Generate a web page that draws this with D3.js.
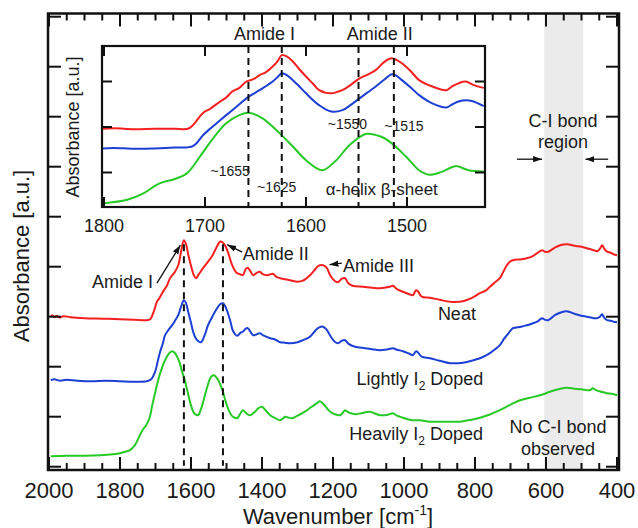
<!DOCTYPE html>
<html><head><meta charset="utf-8">
<script src="https://cdn.jsdelivr.net/npm/d3@7"></script>
<style>
html,body{margin:0;padding:0;background:#fff;}
svg text{font-family:"Liberation Sans",Arial,sans-serif;fill:#1a1a1a;}
</style></head>
<body>
<svg id="chart" width="638" height="528"></svg>
<script>
// ---------- DATA ----------
// Main plot: [wavenumber (cm^-1), absorbance (a.u., offset)]
const neatMain = [[1995,3.0],[1990,3.03],[1985,2.99],[1978,3.02],[1970,2.98],[1960,3.01],[1940,2.99],[1900,2.97],[1850,2.96],[1800,2.95],[1760,2.94],[1725,2.93],[1715,2.95],[1705,3.1],[1696,3.3],[1690,3.36],[1679,3.5],[1668,3.62],[1659,3.77],[1645,3.9],[1635,4.05],[1628,4.3],[1620,4.53],[1614,4.45],[1608,4.25],[1600,4.02],[1592,3.83],[1586,3.77],[1578,3.85],[1565,3.98],[1552,4.1],[1540,4.22],[1530,4.36],[1518,4.5],[1510,4.48],[1502,4.4],[1494,4.25],[1484,4.03],[1472,3.88],[1462,3.85],[1454,3.83],[1446,3.95],[1440,3.98],[1432,3.9],[1425,3.83],[1414,3.88],[1406,3.9],[1398,3.85],[1385,3.83],[1369,3.86],[1360,3.8],[1349,3.77],[1335,3.75],[1321,3.73],[1300,3.7],[1285,3.72],[1265,3.83],[1250,3.95],[1240,4.02],[1228,4.03],[1218,3.98],[1208,3.83],[1196,3.72],[1186,3.69],[1175,3.76],[1166,3.77],[1158,3.68],[1145,3.62],[1115,3.6],[1090,3.58],[1068,3.57],[1040,3.6],[1031,3.62],[1020,3.55],[1003,3.5],[985,3.45],[975,3.43],[966,3.53],[960,3.5],[950,3.4],[927,3.38],[900,3.34],[870,3.3],[834,3.31],[810,3.37],[786,3.47],[770,3.52],[758,3.6],[745,3.68],[730,3.77],[718,3.93],[710,4.03],[700,4.11],[693,4.13],[670,4.15],[654,4.17],[640,4.2],[625,4.27],[611,4.33],[603,4.3],[594,4.3],[575,4.38],[560,4.43],[541,4.45],[520,4.42],[500,4.4],[485,4.37],[466,4.33],[456,4.31],[448,4.36],[442,4.43],[436,4.36],[428,4.3],[418,4.28],[410,4.25],[400,4.23]];
const lightMain = [[1995,1.73],[1985,1.75],[1970,1.72],[1950,1.74],[1920,1.72],[1880,1.71],[1840,1.72],[1800,1.71],[1760,1.7],[1725,1.71],[1712,1.75],[1701,1.9],[1694,2.1],[1687,2.3],[1680,2.45],[1673,2.63],[1663,2.74],[1653,2.83],[1645,2.92],[1636,3.03],[1628,3.2],[1620,3.33],[1614,3.27],[1608,3.1],[1600,2.88],[1594,2.7],[1585,2.55],[1572,2.49],[1562,2.62],[1552,2.83],[1540,3.0],[1530,3.13],[1518,3.25],[1510,3.27],[1503,3.2],[1496,3.07],[1488,2.88],[1482,2.72],[1470,2.62],[1460,2.68],[1454,2.7],[1446,2.76],[1440,2.77],[1432,2.69],[1425,2.63],[1414,2.65],[1406,2.67],[1395,2.62],[1377,2.57],[1365,2.55],[1349,2.49],[1335,2.48],[1321,2.47],[1300,2.49],[1285,2.53],[1265,2.6],[1250,2.72],[1240,2.78],[1228,2.8],[1218,2.74],[1206,2.6],[1195,2.5],[1186,2.47],[1175,2.52],[1166,2.53],[1155,2.45],[1138,2.4],[1110,2.37],[1090,2.35],[1068,2.33],[1045,2.35],[1031,2.37],[1020,2.34],[1003,2.31],[985,2.26],[975,2.23],[966,2.31],[960,2.28],[950,2.2],[927,2.17],[900,2.12],[870,2.07],[834,2.08],[810,2.12],[786,2.17],[770,2.22],[758,2.27],[745,2.34],[730,2.43],[718,2.56],[710,2.63],[700,2.72],[693,2.77],[670,2.8],[654,2.83],[640,2.86],[625,2.9],[611,2.97],[603,2.94],[594,2.93],[575,3.03],[560,3.08],[541,3.11],[520,3.06],[500,3.02],[485,3.0],[466,2.97],[456,2.97],[448,3.0],[442,3.05],[436,2.98],[428,2.93],[418,2.92],[410,2.9],[400,2.89]];
const heavyMain = [[1995,0.21],[1950,0.22],[1900,0.22],[1856,0.23],[1820,0.25],[1800,0.27],[1785,0.3],[1772,0.33],[1758,0.43],[1744,0.63],[1735,0.75],[1728,0.81],[1721,0.9],[1715,1.02],[1710,1.2],[1703,1.42],[1696,1.63],[1689,1.82],[1682,1.97],[1675,2.1],[1668,2.2],[1660,2.28],[1653,2.31],[1646,2.28],[1639,2.2],[1632,2.08],[1625,1.9],[1619,1.77],[1614,1.63],[1608,1.45],[1603,1.3],[1597,1.16],[1591,1.07],[1580,1.03],[1572,1.15],[1563,1.37],[1554,1.6],[1546,1.77],[1540,1.82],[1535,1.83],[1528,1.78],[1521,1.7],[1515,1.6],[1510,1.5],[1503,1.32],[1496,1.17],[1488,1.05],[1480,0.99],[1470,0.97],[1462,1.05],[1454,1.13],[1446,1.08],[1434,1.03],[1420,1.1],[1410,1.17],[1400,1.2],[1390,1.13],[1377,1.03],[1365,0.98],[1349,0.93],[1340,0.97],[1335,1.0],[1325,0.98],[1315,0.97],[1300,1.02],[1279,1.1],[1260,1.2],[1245,1.27],[1237,1.31],[1225,1.24],[1215,1.15],[1208,1.1],[1195,1.05],[1180,1.03],[1172,1.08],[1166,1.13],[1158,1.09],[1138,1.05],[1120,1.07],[1096,1.1],[1080,1.06],[1068,1.03],[1045,1.04],[1031,1.07],[1020,1.02],[1003,0.98],[985,0.94],[975,0.93],[955,0.93],[927,0.9],[900,0.9],[870,0.9],[842,0.9],[810,0.94],[786,0.98],[760,1.04],[730,1.13],[700,1.24],[673,1.33],[645,1.38],[617,1.43],[600,1.47],[589,1.5],[565,1.55],[541,1.58],[520,1.56],[500,1.55],[485,1.53],[476,1.53],[468,1.57],[460,1.53],[445,1.5],[428,1.47],[415,1.46],[400,1.43]];

// Inset (1800-1425 cm^-1): [wavenumber, absorbance a.u.]
const neatInset = [[1802,1.96],[1790,1.97],[1770,1.95],[1750,1.96],[1730,1.96],[1717,1.96],[1712,2.04],[1702,2.31],[1695,2.4],[1685,2.56],[1679,2.65],[1673,2.78],[1666,2.86],[1659,3.0],[1652,3.05],[1646,3.14],[1640,3.2],[1633,3.33],[1628,3.45],[1624,3.58],[1619,3.55],[1613,3.44],[1607,3.28],[1600,3.11],[1593,2.95],[1587,2.81],[1575,2.74],[1568,2.78],[1564,2.81],[1556,2.92],[1547,3.07],[1539,3.15],[1531,3.25],[1525,3.38],[1520,3.47],[1515,3.51],[1510,3.47],[1505,3.4],[1496,3.22],[1488,3.03],[1475,2.89],[1461,2.81],[1455,2.9],[1449,2.96],[1442,3.0],[1434,2.92],[1424,2.86]];
const lightInset = [[1802,1.53],[1790,1.54],[1770,1.52],[1750,1.53],[1730,1.55],[1712,1.58],[1702,1.82],[1694,1.98],[1685,2.15],[1673,2.37],[1666,2.5],[1659,2.63],[1646,2.81],[1633,3.0],[1628,3.1],[1624,3.18],[1619,3.14],[1613,3.03],[1607,2.9],[1600,2.74],[1587,2.48],[1575,2.34],[1564,2.37],[1556,2.48],[1547,2.63],[1539,2.76],[1531,2.89],[1522,3.05],[1515,3.16],[1510,3.12],[1505,3.03],[1496,2.86],[1488,2.7],[1475,2.52],[1461,2.43],[1455,2.5],[1449,2.56],[1442,2.59],[1434,2.56],[1424,2.46]];
const heavyInset = [[1802,0.32],[1777,0.4],[1761,0.54],[1748,0.73],[1740,0.8],[1732,0.84],[1718,0.98],[1705,1.35],[1692,1.75],[1679,2.08],[1666,2.26],[1656,2.31],[1643,2.19],[1626,1.86],[1613,1.57],[1600,1.27],[1584,1.05],[1570,1.27],[1557,1.6],[1540,1.85],[1526,1.79],[1515,1.64],[1501,1.35],[1488,1.05],[1478,0.95],[1465,1.02],[1452,1.14],[1439,1.05],[1424,1.02]];

const mainXTicks = [2000,1800,1600,1400,1200,1000,800,600,400];
const insetXTicks = [1800,1700,1600,1500];
const mainDashed = [1620,1510];
const insetDashed = [1657,1624,1548,1513];
const ciBand = [605,495];
const colors = {neat:"#f41f1f", light:"#1c3fd4", heavy:"#27c927"};

// ---------- LAYOUT ----------
const svg = d3.select("#chart");
const F = {l:48, r:619, t:13.5, b:470};
const x = d3.scaleLinear().domain([2000,400]).range([49,617]);
const y = d3.scaleLinear().domain([0,9]).range([466.7,16.7]);

const defs = svg.append("defs");
defs.append("marker").attr("id","ah").attr("viewBox","0 0 10 10").attr("refX",10).attr("refY",5)
  .attr("markerWidth",9).attr("markerHeight",9).attr("markerUnits","userSpaceOnUse").attr("orient","auto")
  .append("path").attr("d","M0,1.5 L10,5 L0,8.5 Z").attr("fill","#111");

// C-I band
svg.append("rect").attr("x",x(ciBand[0])).attr("y",F.t).attr("width",x(ciBand[1])-x(ciBand[0])).attr("height",F.b-F.t).attr("fill","#ebebeb");

// curves
const line = d3.line().x(d=>x(d[0])).y(d=>y(d[1])).curve(d3.curveCatmullRom.alpha(0.5));
[[heavyMain,colors.heavy],[lightMain,colors.light],[neatMain,colors.neat]].forEach(([d,c])=>{
  svg.append("path").datum(d).attr("d",line).attr("fill","none").attr("stroke",c).attr("stroke-width",2).attr("stroke-linejoin","round");
});

// dashed lines main
mainDashed.forEach(w=>{
  svg.append("line").attr("x1",x(w)).attr("x2",x(w)).attr("y1",y(4.45)).attr("y2",y(0.02))
    .attr("stroke","#111").attr("stroke-width",2).attr("stroke-dasharray","7,5");
});

// frame + ticks
const tk = svg.append("g").attr("stroke","#111").attr("stroke-width",2);
const minorX = d3.range(2000,399,-50);
minorX.forEach(w=>{
  const major = mainXTicks.includes(w);
  const L = major?13:7;
  tk.append("line").attr("x1",x(w)).attr("x2",x(w)).attr("y1",F.b).attr("y2",F.b-L);
  tk.append("line").attr("x1",x(w)).attr("x2",x(w)).attr("y1",F.t).attr("y2",F.t+L);
});
d3.range(0,10).forEach(v=>{
  tk.append("line").attr("x1",F.l).attr("x2",F.l+13).attr("y1",y(v)).attr("y2",y(v));
  tk.append("line").attr("x1",F.r).attr("x2",F.r-13).attr("y1",y(v)).attr("y2",y(v));
});
svg.append("rect").attr("x",F.l).attr("y",F.t).attr("width",F.r-F.l).attr("height",F.b-F.t)
  .attr("fill","none").attr("stroke","#111").attr("stroke-width",2.5);

// tick labels
svg.append("g").selectAll("text").data(mainXTicks).join("text")
  .attr("x",d=>x(d)).attr("y",498).attr("text-anchor","middle").attr("font-size",22).text(d=>d);

// axis titles
const xt = svg.append("text").attr("x",338).attr("y",524).attr("text-anchor","middle").attr("font-size",22);
xt.append("tspan").text("Wavenumber [cm");
xt.append("tspan").attr("dy",-9).attr("font-size",14).text("-1");
xt.append("tspan").attr("dy",9).text("]");
svg.append("text").attr("transform","translate(29,256) rotate(-90)").attr("text-anchor","middle").attr("font-size",22).text("Absorbance [a.u.]");

// annotations main
function ann(txt,w,v,anchor,size){ return svg.append("text").attr("x",x(w)).attr("y",y(v)).attr("text-anchor",anchor||"start").attr("font-size",size||18).text(txt); }
function arrow(w1,v1,w2,v2){ svg.append("line").attr("x1",x(w1)).attr("y1",y(v1)).attr("x2",x(w2)).attr("y2",y(v2)).attr("stroke","#111").attr("stroke-width",1.3).attr("marker-end","url(#ah)"); }
ann("Amide I",1707,3.57,"end");
arrow(1696,3.67,1630,4.43);
ann("Amide II",1454,4.13,"start");
arrow(1456,4.29,1498,4.44);
ann("Amide III",1172,3.89,"start");
arrow(1175,4.07,1210,4.04);
ann("Neat",851,2.93,"middle");
function sub(prefix,suffix,w,v){
  const t = svg.append("text").attr("x",x(w)).attr("y",y(v)).attr("text-anchor","middle").attr("font-size",18);
  t.append("tspan").text(prefix);
  t.append("tspan").attr("dy",5).attr("font-size",12).text("2");
  t.append("tspan").attr("dy",-5).text(suffix);
}
sub("Lightly I"," Doped",955,1.63);
sub("Heavily I"," Doped",966,0.53);
ann("No C-I bond",566,0.67,"middle");
ann("observed",566,0.23,"middle");
ann("C-I bond",552,6.79,"middle");
ann("region",552,6.37,"middle");
arrow(682,6.15,611,6.15);
arrow(425,6.15,489,6.15);

// ---------- INSET ----------
const I = {l:102, r:485, t:46, b:207};
const xi = d3.scaleLinear().domain([1800,1500]).range([104,407]);
const yi = d3.scaleLinear().domain([1,3]).range([172.5,81.5]);
svg.append("rect").attr("x",I.l).attr("y",I.t).attr("width",I.r-I.l).attr("height",I.b-I.t).attr("fill","#fff");
const ig = svg.append("g");
const ilineGen = d3.line().x(d=>xi(d[0])).y(d=>yi(d[1])).curve(d3.curveCatmullRom.alpha(0.5));
[[heavyInset,colors.heavy],[lightInset,colors.light],[neatInset,colors.neat]].forEach(([d,c])=>{
  ig.append("path").datum(d).attr("d",ilineGen).attr("fill","none").attr("stroke",c).attr("stroke-width",2);
});
insetDashed.forEach(w=>{
  ig.append("line").attr("x1",xi(w)).attr("x2",xi(w)).attr("y1",I.t).attr("y2",I.b)
    .attr("stroke","#111").attr("stroke-width",2).attr("stroke-dasharray","7,5");
});
const itk = ig.append("g").attr("stroke","#111").attr("stroke-width",2);
insetXTicks.forEach(w=>{
  itk.append("line").attr("x1",xi(w)).attr("x2",xi(w)).attr("y1",I.b).attr("y2",I.b-10);
  itk.append("line").attr("x1",xi(w)).attr("x2",xi(w)).attr("y1",I.t).attr("y2",I.t+10);
});
[1,2,3].forEach(v=>{
  itk.append("line").attr("x1",I.l).attr("x2",I.l+10).attr("y1",yi(v)).attr("y2",yi(v));
  itk.append("line").attr("x1",I.r).attr("x2",I.r-10).attr("y1",yi(v)).attr("y2",yi(v));
});
ig.append("rect").attr("x",I.l).attr("y",I.t).attr("width",I.r-I.l).attr("height",I.b-I.t)
  .attr("fill","none").attr("stroke","#111").attr("stroke-width",2.2);
ig.selectAll("text.it").data(insetXTicks).join("text").attr("class","it")
  .attr("x",d=>xi(d)).attr("y",232).attr("text-anchor","middle").attr("font-size",18).text(d=>d);
ig.append("text").attr("transform","translate(79,127) rotate(-90)").attr("text-anchor","middle").attr("font-size",18).text("Absorbance [a.u.]");
function iann(txt,w,v,size,anchor){ ig.append("text").attr("x",xi(w)).attr("y",yi(v)).attr("text-anchor",anchor||"middle").attr("font-size",size).text(txt); }
iann("Amide I",1641,3.92,18);
iann("Amide II",1527,3.92,18);
iann("~1655",1675,0.92,14);
iann("~1625",1629,0.58,14);
iann("~1550",1559,1.95,14);
iann("~1515",1503,1.91,14);
iann("α-helix β-sheet",1525,0.5,17);
</script>
</body></html>
